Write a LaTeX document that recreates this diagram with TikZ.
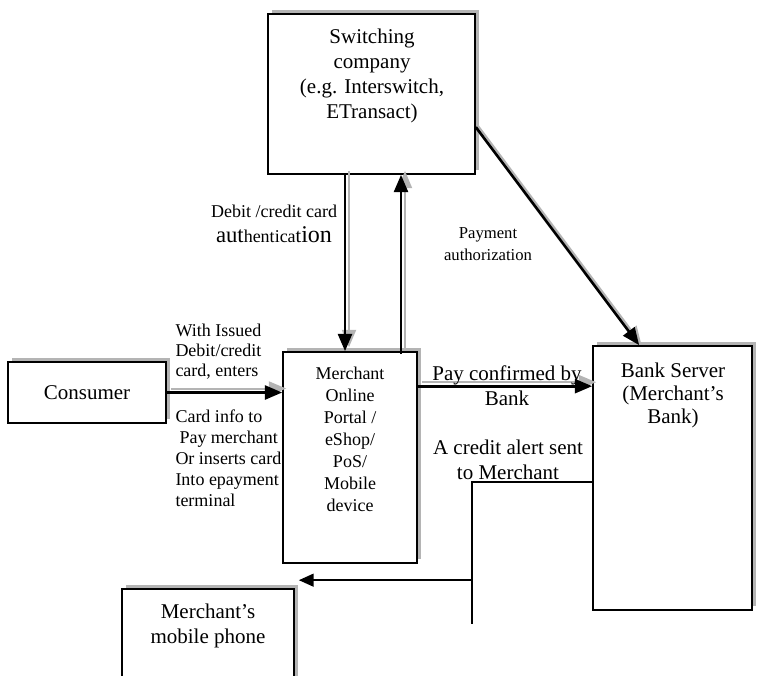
\documentclass[tikz,border=0pt]{standalone}
\usepackage{fontspec}
\setmainfont{Liberation Serif}
\usetikzlibrary{arrows.meta,shadows,calc}

\definecolor{shadowgray}{RGB}{180,180,180}

\tikzset{every picture/.style={line width=0.75pt}}
\tikzset{
  box/.style={draw, line width=1.25pt, fill=white, inner sep=0pt,
    drop shadow={shadow xshift=3pt, shadow yshift=3pt, fill=shadowgray, opacity=1}},
  big/.style={font=\fontsize{15.75}{18.75}\selectfont, align=center, inner sep=0pt},
  small/.style={font=\fontsize{13.5}{15}\selectfont, inner sep=0pt},
  flow/.style={line width=2pt, -{Triangle[length=13pt,width=10.5pt]},
    preaction={draw=shadowgray, line width=1.5pt, transform canvas={shift={(4,4)}}}},
  slant/.style={line width=2pt, -{Triangle[length=13pt,width=10.5pt]},
    preaction={draw=shadowgray, line width=1.5pt, transform canvas={shift={(2,1.5)}}}},
  alert/.style={line width=1.5pt, -{Triangle[length=11pt,width=9.5pt]}}
}

\begin{document}
\begin{tikzpicture}[x=0.75pt,y=0.75pt,yscale=-1,xscale=1]
    \clip (0,0) rectangle (762,675);

    %Shape: Rectangle [switch]
    \node (switch) [box, minimum width=155.25pt, minimum height=120pt] at (371.5,94) {};
    %Shape: Rectangle [consumer]
    \node (consumer) [box, big, minimum width=118.5pt, minimum height=45.75pt] at (87,392.5) {Consumer};
    %Shape: Rectangle [portal]
    \node (portal) [box, minimum width=100.5pt, minimum height=158.25pt] at (350,457.5) {};
    %Shape: Rectangle [bank]
    \node (bank) [box, minimum width=119.25pt, minimum height=198pt] at (672.5,478) {};
    %Shape: Rectangle [mobile], runs off the bottom
    \node (mobile) [box, minimum width=129pt, minimum height=83.25pt] at (208,644.5) {};

    %Straight Lines [consumer -> portal]
    \draw [flow] (consumer.east) -- (consumer.east -| portal.west);
    %Straight Lines [portal -> bank]
    \coordinate (payL) at ($(portal.north east)+(0,35)$);
    \draw [flow] (payL) -- (payL -| bank.west);
    %Straight Lines [switch -> portal]
    \coordinate (authB) at ($(portal.north)+(-5,0)$);
    \draw [flow] (authB |- switch.south) -- (authB);
    %Straight Lines [portal -> switch]
    \coordinate (authzB) at ($(portal.north)+(51,3)$);
    \draw [flow] (authzB) -- (authzB |- switch.south);
    %Straight Lines [switch -> bank]
    \draw [slant] ($(switch.north east)+(0,114)$) -- ($(bank.north west)+(47,0)$);
    %Straight Lines [bank -> mobile]
    \coordinate (alertA) at ($(bank.north west)+(0,137)$);
    \coordinate (alertB) at ($(alertA)+(-120,0)$);
    \coordinate (alertC) at ($(alertB)+(0,142)$);
    \coordinate (alertD) at ($(alertB)+(0,98)$);
    \draw [line width=1.5pt] (alertA) -- (alertB) -- (alertC);
    \draw [alert, shorten >=3pt] (alertD) -- (alertD -| mobile.east);

    % Text Node
    \node (switchtxt) [big] at (372,75.5) {Switching\\company\\(e.g. Interswitch,\\ETransact)};
    % Text Node
    \node (issuedtxt) [small, align=left, anchor=west] at (175,352) {With Issued\\Debit/credit\\card, enters};
    % Text Node
    \node (cardtxt) [small, align=left, anchor=west, font=\fontsize{13.5}{15.75}\selectfont] at (175,458)
      {Card info to\\\hspace*{3pt}Pay merchant\\Or inserts card\\Into epayment\\terminal};
    % Text Node
    \node (portaltxt) [small, align=center, font=\fontsize{13.5}{16.5}\selectfont] at (350,439)
      {Merchant\\Online\\Portal /\\eShop/\\PoS/\\Mobile\\device};
    % Text Node
    \node (authtxt) [small, align=center, font=\fontsize{13.5}{18.75}\selectfont] at (274,223.5)
      {Debit /credit card\\{\fontsize{17}{18}\selectfont aut}hentica{\fontsize{15}{18}\selectfont t}{\fontsize{18}{18}\selectfont ion}};
    % Text Node
    \node (authztxt) [small, align=center, font=\fontsize{12.5}{16.5}\selectfont] at (488,244) {Payment\\authorization};
    % Text Node
    \node (paytxt) [big] at (507,385.5) {Pay confirmed by\\Bank};
    % Text Node
    \node (alerttxt) [big] at (508,459.5) {A credit alert sent\\to Merchant};
    % Text Node
    \node (banktxt) [big, font=\fontsize{15.75}{17.25}\selectfont] at (673,395) {Bank Server\\(Merchant's\\Bank)};
    % Text Node
    \node (mobiletxt) [big] at (208,625.5) {Merchant's\\mobile phone};
\end{tikzpicture}
\end{document}
